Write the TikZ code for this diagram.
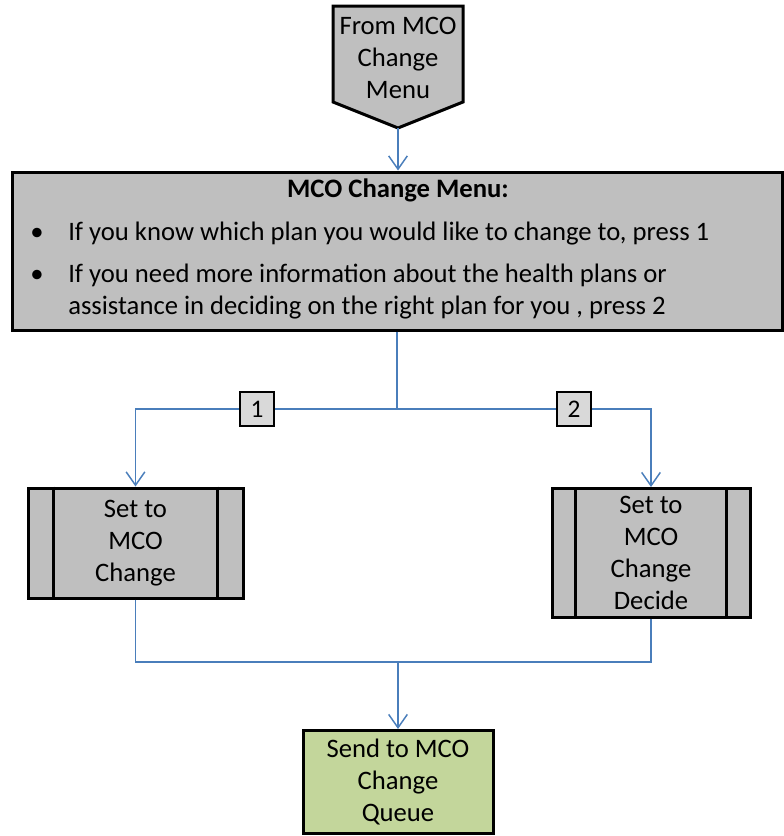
\documentclass[tikz,border=0pt]{standalone}
\usepackage{fontspec}
\setmainfont{Carlito}
\usetikzlibrary{arrows.meta}
\definecolor{boxgray}{HTML}{BFBFBF}
\definecolor{labgray}{HTML}{D9D9D9}
\definecolor{queuegreen}{HTML}{C3D69B}
\definecolor{flowblue}{HTML}{4A7EBB}
\tikzset{
  txt/.style={font=\fontsize{20pt}{24pt}\selectfont, align=center, inner sep=0pt},
  box/.style={draw=black, line width=2.25pt, inner sep=0pt, font=\fontsize{20pt}{24pt}\selectfont, align=center},
  procbox/.style={box, fill=boxgray},
  labbox/.style={draw=black, line width=1.6pt, fill=labgray, minimum size=25.5pt, inner sep=0pt, font=\fontsize{19pt}{22pt}\selectfont},
  flow/.style={draw=flowblue, line width=1.1pt},
  flowarrow/.style={flow, -{Straight Barb[length=10pt,width=14pt,line width=1.1pt]}},
}
\begin{document}
\begin{tikzpicture}[x=0.75pt,y=-0.75pt]
\useasboundingbox (0,0) rectangle (783,836);

% off-page entry: pentagon pointing down
\draw[fill=boxgray, line width=2.25pt, line join=miter]
  (333,6) -- (463,6) -- (463,102) -- (398,128) -- (333,102) -- cycle;
\node[txt] (from) at (398,58) {From MCO\\Change\\Menu};
\coordinate (fromtip) at (398,128);

% menu box
\node[procbox, minimum width=577.5pt, minimum height=118.5pt] (menu) at (397.5,251) {};
\node[anchor=base, inner sep=0pt, font=\fontsize{20pt}{24pt}\selectfont\bfseries] (title) at (398,197) {MCO Change Menu:};
\node[anchor=base, inner sep=0pt, font=\fontsize{20pt}{24pt}\selectfont] (b1) at (37,240) {•};
\node[anchor=base west, inner sep=0pt, font=\fontsize{20pt}{24pt}\selectfont] (t1) at (68,240) {If you know which plan you would like to change to, press 1};
\node[anchor=base, inner sep=0pt, font=\fontsize{20pt}{24pt}\selectfont] (b2) at (37,282) {•};
\node[anchor=base west, inner sep=0pt, font=\fontsize{20pt}{24pt}\selectfont] (t2) at (68,282) {If you need more information about the health plans or};
\node[anchor=base west, inner sep=0pt, font=\fontsize{20pt}{24pt}\selectfont] (t3) at (68,314) {assistance in deciding on the right plan for you , press 2};

% predefined-process boxes
\node[procbox, minimum width=161.25pt, minimum height=82.5pt] (setA) at (135.5,543) {Set to\\MCO\\Change};
\draw[line width=2.25pt] ([xshift=20.25pt]setA.north west) -- ([xshift=20.25pt]setA.south west);
\draw[line width=2.25pt] ([xshift=-20.25pt]setA.north east) -- ([xshift=-20.25pt]setA.south east);

\node[procbox, minimum width=148.5pt, minimum height=96.75pt] (setB) at (651,553) {Set to\\MCO\\Change\\Decide};
\draw[line width=2.25pt] ([xshift=18.75pt]setB.north west) -- ([xshift=18.75pt]setB.south west);
\draw[line width=2.25pt] ([xshift=-18.75pt]setB.north east) -- ([xshift=-18.75pt]setB.south east);

% queue box
\node[box, fill=queuegreen, minimum width=142.5pt, minimum height=77.25pt] (queue) at (398,782) {Send to MCO\\Change\\Queue};

% choice labels
\node[labbox] (lab1) at (257,409) {1};
\node[labbox] (lab2) at (574,409) {2};
\coordinate (split) at (397,409);
\coordinate (merge) at (398,662);

% connectors
\draw[flowarrow] (fromtip) -- (menu.north -| fromtip);
\draw[flow] (menu.south -| split) -- (split);
\draw[flow] (split) -- (lab1.east);
\draw[flow] (split) -- (lab2.west);
\draw[flowarrow] (lab1.west) -| (setA.north);
\draw[flowarrow] (lab2.east) -| (setB.north);
\draw[flow] (setA.south) |- (merge);
\draw[flow] (setB.south) |- (merge);
\draw[flowarrow] (merge) -- (queue.north);
\end{tikzpicture}
\end{document}
